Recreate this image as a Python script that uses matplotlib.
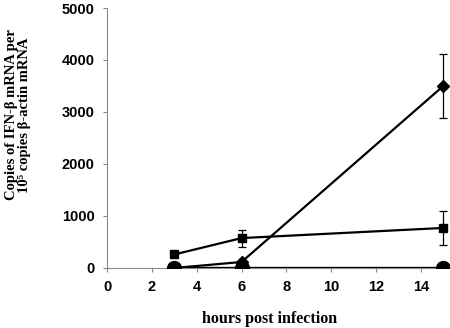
import matplotlib
matplotlib.use("Agg")
import matplotlib.pyplot as plt

# IFN-beta transcript copies at each time point
hours = [3, 6, 15]
diamond_vals = [0, 115, 3500]
diamond_err = [0, 0, 610]
square_vals = [260, 575, 770]
square_err = [0, 165, 330]
circle_vals = [0, 0, 0]

x_ticks = [0, 2, 4, 6, 8, 10, 12, 14]
y_ticks = [0, 1000, 2000, 3000, 4000, 5000]

fig = plt.figure(figsize=(4.5, 3.28), dpi=100)
ax = fig.add_axes([0.238, 0.183, 0.762, 0.7926])

ax.plot(hours, circle_vals, "-o", color="black", lw=2.4, ms=10, zorder=3)
ax.errorbar(hours, square_vals, yerr=square_err, fmt="-s", color="black",
            lw=1.6, ms=5.5, elinewidth=0.9, capsize=3, capthick=0.9, zorder=4)
ax.errorbar(hours, diamond_vals, yerr=diamond_err, fmt="-D", color="black",
            lw=1.6, ms=6, elinewidth=0.9, capsize=3, capthick=0.9, zorder=5)

ax.set_xlim(0, 15.3)
ax.set_ylim(0, 5000)
ax.set_xticks(x_ticks)
ax.set_yticks(y_ticks)

for side in ("top", "right"):
    ax.spines[side].set_visible(False)
for side in ("left", "bottom"):
    ax.spines[side].set_color("#888888")
    ax.spines[side].set_linewidth(0.8)
ax.tick_params(axis="both", direction="out", length=3, width=0.8,
               color="#888888", labelsize=10.5, pad=6)
for lab in ax.get_xticklabels() + ax.get_yticklabels():
    lab.set_fontfamily("Liberation Sans")
    lab.set_fontweight("bold")

ax.set_xlabel("hours post infection", fontfamily="Liberation Serif",
              fontweight="bold", fontsize=11.5)
ax.xaxis.set_label_coords(0.475, -0.165)

# two-line y label, placed in figure pixels
fig.text(18.5 / 450, 1 - 115 / 328,
         "Copies of IFN-\u03b2 mRNA per\n10\u2075 copies \u03b2-actin mRNA",
         rotation=90, ha="center", va="center", multialignment="center",
         fontfamily="Liberation Serif", fontweight="bold", fontsize=10.5,
         linespacing=1.0)

fig.savefig("out.png", dpi=100)
